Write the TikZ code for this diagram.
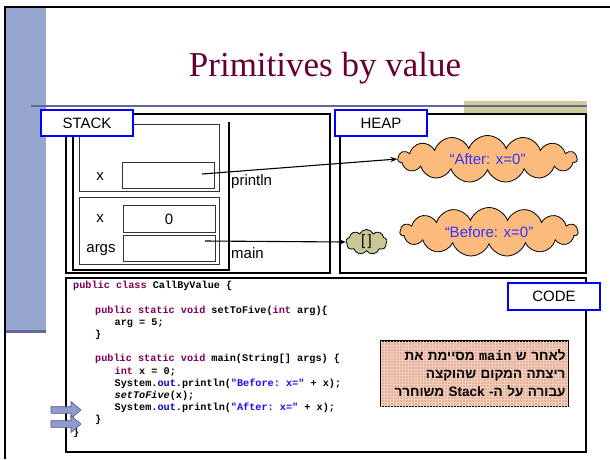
\documentclass[tikz,border=0pt]{standalone}
\usepackage{fontspec}
\setmainfont{Liberation Sans}
\newfontfamily\titlefont{Liberation Serif}
\newfontfamily\codefont{Liberation Mono}
\newfontfamily\hebfont[Script=Hebrew]{Liberation Sans}
\TeXXeTstate=1
\usetikzlibrary{shapes.symbols,arrows.meta,patterns}

\definecolor{titlered}{HTML}{660033}
\definecolor{bandblue}{HTML}{97A6CF}
\definecolor{ruleblue}{HTML}{666699}
\definecolor{bandtan}{HTML}{CCCC99}
\definecolor{cloudorange}{HTML}{FBBB7D}
\definecolor{cloudkhaki}{HTML}{C8C896}
\definecolor{strblue}{HTML}{3333FF}
\definecolor{kwred}{HTML}{7F0055}
\definecolor{outblue}{HTML}{0000C0}
\definecolor{codestr}{HTML}{2A00FF}
\definecolor{notefill}{HTML}{E8B296}
\definecolor{notegrid}{HTML}{EFCDC0}
\definecolor{arrowfill}{HTML}{8C9DCC}
\definecolor{arrowedge}{HTML}{505A80}

% code helpers
\newcommand\kw[1]{\textcolor{kwred}{#1}}
\newcommand\fld[1]{\textcolor{outblue}{#1}}
\newcommand\jstr[1]{\textcolor{codestr}{#1}}
\newcommand\indA{\hspace*{22pt}}
\newcommand\indB{\hspace*{41.5pt}}

\begin{document}
\begin{tikzpicture}[x=1pt,y=-1pt,
  labelbox/.style={draw=blue, line width=1.3pt, fill=white,
    minimum width=92pt, minimum height=26pt, inner sep=0pt,
    font=\fontsize{15}{18}\selectfont},
  region/.style={draw=black, line width=1.5pt},
  frame/.style={draw=black!80, line width=0.9pt},
  field/.style={draw=black!80, line width=0.9pt, minimum width=92pt,
    minimum height=26.5pt, inner sep=0pt, font=\fontsize{15}{18}\selectfont},
  slot/.style={inner sep=0pt, font=\fontsize{15}{18}\selectfont},
  heapobj/.style={cloud, cloud puffs=15, cloud puff arc=140,
    cloud ignores aspect, draw=black, line width=0.8pt, inner sep=0pt,
    font=\fontsize{15}{18}\selectfont},
  ref/.style={-{Stealth[length=7pt,width=5.5pt]}, line width=1.1pt},
  blockarrow/.style={fill=arrowfill, draw=arrowedge, line width=0.6pt}
]
\useasboundingbox (0,0) rectangle (610,459);

% slide decoration
\fill[bandtan] (464,101) rectangle (587,113);
\fill[bandblue] (6,8) rectangle (46,332);
\fill[ruleblue] (6,329.5) rectangle (46,333);
\draw[ruleblue, line width=2pt] (31,106) -- (587,106);
\draw[black, line width=2pt] (5,459) -- (5,7) -- (610,7);

% title
\node[anchor=base, text=titlered, font=\titlefont\fontsize{35}{40}\selectfont]
  (title) at (325,76) {Primitives by value};

% stack region
\draw[region] (66,114) rectangle (330,273);
\draw[black, line width=2.4pt] (73,122) -- (73,270) -- (229,270) -- (229,122);
\draw[frame] (79,124) rectangle (219,191);
\draw[frame] (79,197) rectangle (219,264);

\node[field] (px) at (168,175.5) {};
\node[field] (mx) at (169,219) {0};
\node[field] (margs) at (169,248.5) {};
\node[slot] (pxlabel) at (100,177) {x};
\node[slot] (mxlabel) at (100,219) {x};
\node[slot, anchor=base] (argslabel) at (101,252.5) {args};
\node[slot, anchor=base west] (println) at (231,185) {println};
\node[slot, anchor=base west] (mainlbl) at (231,258) {main};

% heap region
\draw[region] (340,114) rectangle (586,273);
\node[heapobj, fill=cloudorange, text=strblue, minimum width=179pt,
  minimum height=47pt] (after) at (487.5,159) {“After: x=0”};
\node[heapobj, fill=cloudorange, text=strblue, minimum width=178pt,
  minimum height=49pt] (before) at (489,232) {“Before: x=0”};
\node[heapobj, fill=cloudkhaki, cloud puffs=9, cloud puff arc=130,
  minimum width=41pt, minimum height=25pt] (emptyarr) at (366.5,242) {[\,]};

% references from stack slots
\coordinate (pxref) at (202,174);
\coordinate (argsref) at (205,241);
\draw[ref] (pxref) -- (after.west);
\draw[ref] (argsref) -- (emptyarr.west);

% region labels
\node[labelbox] (stacklbl) at (87,123) {STACK};
\node[labelbox] (heaplbl) at (381,123) {HEAP};

% code region
\draw[region] (66,278) rectangle (586,452);
\node[labelbox, minimum height=27pt] (codelbl) at (554,296.5) {CODE};

\node[anchor=north west, inner sep=0pt, align=left,
  font=\codefont\bfseries\fontsize{10.2}{12.2}\selectfont\frenchspacing]
  (code) at (73,281) {%
\kw{public} \kw{class} CallByValue \{\\
~\\
\indA\kw{public} \kw{static} \kw{void} setToFive(\kw{int} arg)\{\\
\indB arg = 5;\\
\indA\}\\
~\\
\indA\kw{public} \kw{static} \kw{void} main(String[] args) \{\\
\indB\kw{int} x = 0;\\
\indB System.\fld{out}.println(\jstr{"Before: x="} + x);\\
\indB\textit{setToFive}(x);\\
\indB System.\fld{out}.println(\jstr{"After: x="} + x);\\
\indA\}\\
\}};

% execution pointers
\draw[blockarrow] (51,406.7) -- (71,406.7) -- (71,401.5) -- (81,410)
  -- (71,418.5) -- (71,413.3) -- (51,413.3) -- cycle;
\draw[blockarrow] (51,420.7) -- (71,420.7) -- (71,415.5) -- (81,424)
  -- (71,432.5) -- (71,427.3) -- (51,427.3) -- cycle;

% note on the freed frame, on a textured fill
\node[draw=black, line width=1.6pt, fill=notefill,
  postaction={pattern=grid, pattern color=notegrid},
  minimum width=187pt, minimum height=65pt, inner sep=2pt,
  text width=182pt, align=right,
  font=\hebfont\bfseries\fontsize{13.5}{18}\selectfont] (note) at (474.5,373.5) {%
\beginR לאחר ש {\codefont main} מסיימת את\endR\\
\beginR ריצתה המקום שהוקצה\endR\\
\beginR עבורה על ה- Stack משוחרר\endR};
\end{tikzpicture}
\end{document}
